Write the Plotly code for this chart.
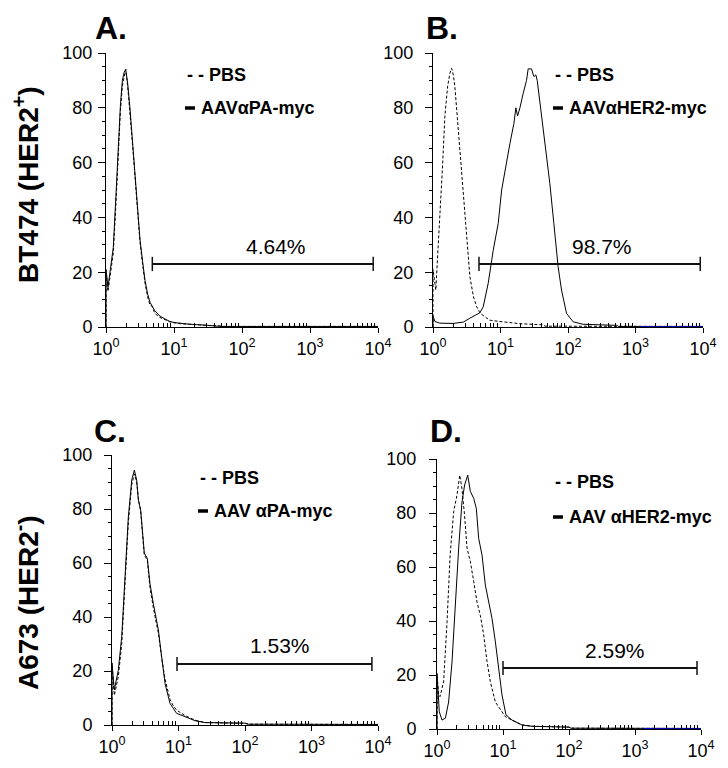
import numpy as np
import plotly.graph_objects as go

# page body has an 8px margin; figure is sized so page == 728x768
OFF = 8
W, H = 728 - 2 * OFF, 768 - 2 * OFF

# ---------------- data (fluorescence intensity, % of max) ----------------
# Panel A: BT474, AAV alpha-PA-myc
a_sol_x = [1.0, 1.0, 1.07, 1.15, 1.28, 1.4, 1.52, 1.63, 1.74, 1.85, 1.95, 2.08, 2.25, 2.45, 2.67, 2.9, 3.16, 3.45, 3.75, 4.1, 4.44, 5.2, 6.2, 7.3, 8.7, 10.3, 12.3, 17, 24, 35, 47, 50, 10000]
a_sol_y = [0, 21, 14.6, 20, 29, 48, 68, 81, 90, 93, 94, 89, 80, 68, 56, 44, 32, 24, 17, 12, 9, 6, 4, 3, 2, 1.6, 1.3, 1.0, 0.8, 0.6, 0.5, 0.2, 0.2]
a_pbs_x = [1.0, 1.0, 1.07, 1.15, 1.28, 1.4, 1.52, 1.63, 1.74, 1.85, 1.95, 2.08, 2.25, 2.45, 2.67, 2.9, 3.16, 3.45, 3.75, 4.1, 4.44, 4.8, 5.2, 6.2, 7.3, 8.7, 10.3, 12.3, 17, 24, 35, 47, 50, 10000]
a_pbs_y = [0, 20, 13, 18, 27, 45, 65, 79, 88, 92, 94, 88, 79, 67, 55, 43, 31, 23, 16, 11, 8, 7.5, 5, 3.5, 2.6, 1.9, 1.5, 1.2, 1.0, 0.7, 0.5, 0.4, 0.2, 0.2]

# Panel B: BT474, AAV alpha-HER2-myc
b_sol_x = [1.0, 1.0, 1.07, 1.26, 2.0, 2.82, 3.52, 4.17, 4.95, 5.55, 6.58, 7.8, 9.25, 10.4, 11.6, 13.8, 15.8, 16.9, 17.9, 19.4, 21.7, 24.3, 25.7, 28.8, 31.2, 33.4, 35, 40.6, 47, 53.8, 61.7, 71.4, 80.2, 95, 119, 166, 525, 562, 10000]
b_sol_y = [0, 4, 2, 1.4, 1.3, 1.8, 3.2, 4.3, 5.2, 7.4, 16, 28, 37.8, 50, 57, 67, 74.3, 80, 77, 80, 85.3, 90, 94.2, 94.2, 91.4, 92, 90, 76.8, 64.6, 52.4, 37.8, 22, 13.5, 5, 1.9, 1.0, 0.6, 0.2, 0.2]
b_pbs_x = [1.0, 1.0, 1.1, 1.27, 1.38, 1.5, 1.65, 1.78, 1.89, 2.0, 2.11, 2.3, 2.51, 2.75, 2.97, 3.25, 3.52, 3.98, 4.43, 5.0, 5.9, 6.9, 9.8, 19.5, 42.7, 45.7, 10000]
b_pbs_y = [0, 21, 13.5, 40, 58, 77, 88, 92.6, 94.4, 92, 87.7, 76, 64.6, 52, 40, 28, 18.4, 11, 7.4, 5, 3.8, 2.5, 2.0, 1.2, 0.8, 0.3, 0.2]

# Panel C: A673, AAV alpha-PA-myc
c_sol_x = [1.0, 1.0, 1.084, 1.245, 1.4, 1.57, 1.76, 1.98, 2.17, 2.35, 2.49, 2.7, 2.89, 3.06, 3.4, 3.72, 4.18, 4.98, 5.58, 6.27, 7.45, 9.38, 12.5, 17.7, 25, 100, 112, 10000]
c_sol_y = [0, 23, 13, 20.4, 32.7, 55, 77, 90.7, 94.4, 90.7, 83.3, 79.6, 71, 63.6, 61.7, 52.5, 45, 35.2, 25.3, 15.4, 8, 4.3, 3.1, 1.6, 0.9, 0.7, 0.3, 0.2]
c_pbs_x = [1.0, 1.0, 1.084, 1.245, 1.4, 1.57, 1.76, 1.98, 2.17, 2.35, 2.49, 2.7, 2.89, 3.06, 3.4, 3.72, 4.18, 4.98, 5.58, 6.27, 7.45, 8.4, 9.38, 12.5, 17.7, 25, 100, 112, 10000]
c_pbs_y = [0, 22, 11, 18, 30, 53, 75, 89, 93, 90, 84, 79, 70, 63, 61, 51, 43.5, 34, 25, 17, 9.5, 7, 5.5, 3.5, 1.8, 0.9, 0.6, 0.3, 0.2]

# Panel D: A673, AAV alpha-HER2-myc
d_sol_x = [1.0, 1.0, 1.084, 1.19, 1.34, 1.5, 1.69, 1.89, 2.13, 2.39, 2.62, 2.92, 3.2, 3.6, 3.94, 4.28, 4.81, 5.4, 6.07, 6.81, 7.66, 8.59, 9.66, 11.1, 13.7, 19.4, 27.5, 100, 107, 10000]
d_sol_y = [0, 20.6, 6.4, 3.3, 4, 10, 25, 47, 67, 84, 90.4, 94, 88, 85.4, 81.7, 70.6, 64.4, 53.3, 47, 41, 32.3, 22.5, 12.6, 5.2, 3.3, 1.5, 1.0, 0.7, 0.3, 0.2]
d_pbs_x = [1.0, 1.0, 1.06, 1.11, 1.26, 1.42, 1.58, 1.79, 2.01, 2.21, 2.39, 2.62, 2.85, 3.2, 3.6, 4.04, 4.54, 5.09, 5.73, 6.43, 7.66, 9.12, 10.8, 13.7, 19.4, 27.5, 100, 107, 10000]
d_pbs_y = [0, 20, 12.6, 12, 17.5, 39.7, 64.4, 80.5, 86.7, 94, 89, 79, 67, 62, 54.6, 47, 42, 35, 25, 17.5, 10, 7, 4.6, 3.3, 1.5, 1.0, 0.7, 0.3, 0.2]

# blue baseline segments (third, empty histogram) in panels B and D
b_blue_x = [1150, 10000]
b_blue_y = [0, 0]
d_blue_x = [1320, 10000]
d_blue_y = [0, 0]

# gates: low, high, level, label
gate_lo = [4.8, 4.8, 9.5, 10]
gate_hi = [8500, 9100, 8100, 8700]
gate_lvl = [23, 23, 22.6, 22.6]
gate_txt = ["4.64%", "98.7%", "1.53%", "2.59%"]
gate_txt_x = [316, 324, 339, 500]
gate_txt_y = [29.2, 29.2, 29.3, 28.9]

panel_names = ["A.", "B.", "C.", "D."]
legend_pbs = ["- - PBS", "- - PBS", "- - PBS", "- - PBS"]
legend_aav = ["AAVαPA-myc", "AAVαHER2-myc", "AAV αPA-myc", "AAV αHER2-myc"]
row_titles = ["BT474 (HER2<sup>+</sup>)", "A673 (HER2<sup>-</sup>)"]

x_tickvals = [1, 10, 100, 1000, 10000]
x_ticktext = ["10<sup>0</sup>", "10<sup>1</sup>", "10<sup>2</sup>", "10<sup>3</sup>", "10<sup>4</sup>"]
y_tickvals = [0, 20, 40, 60, 80, 100]

# ---------------- layout geometry (page pixels) ----------------
boxes = [  # x0, x1, ytop, ybottom
    (106, 378, 53, 327),
    (433, 703, 53, 327),
    (112, 378, 455, 725),
    (437, 701, 459, 729),
]
standoffs = [2, 8, 8, 9]


def fx(px):
    return (px - OFF) / W


def fy(py):
    return 1 - (py - OFF) / H


FONT = "Arial, Liberation Sans, sans-serif"
fig = go.Figure()

sol = [(a_sol_x, a_sol_y), (b_sol_x, b_sol_y), (c_sol_x, c_sol_y), (d_sol_x, d_sol_y)]
pbs = [(a_pbs_x, a_pbs_y), (b_pbs_x, b_pbs_y), (c_pbs_x, c_pbs_y), (d_pbs_x, d_pbs_y)]

minor_vals = [m * 10 ** k for k in range(4) for m in range(2, 10)]

for i in range(4):
    xa = "x" if i == 0 else f"x{i+1}"
    ya = "y" if i == 0 else f"y{i+1}"
    # PBS dashed
    fig.add_trace(go.Scatter(x=pbs[i][0], y=pbs[i][1], mode="lines", xaxis=xa, yaxis=ya,
                             line=dict(color="black", width=1, dash="3px,2px"), showlegend=False))
    # AAV solid
    fig.add_trace(go.Scatter(x=sol[i][0], y=sol[i][1], mode="lines", xaxis=xa, yaxis=ya,
                             line=dict(color="black", width=1), showlegend=False))
    # gate
    fig.add_trace(go.Scatter(x=[gate_lo[i], gate_hi[i]], y=[gate_lvl[i], gate_lvl[i]], mode="lines",
                             xaxis=xa, yaxis=ya, line=dict(color="#111", width=2),
                             error_y=dict(type="data", array=[2.6, 2.6], width=0, thickness=1.5, color="#111"),
                             showlegend=False))
    if i == 1:
        fig.add_trace(go.Scatter(x=b_blue_x, y=b_blue_y, mode="lines", xaxis=xa, yaxis=ya,
                                 line=dict(color="blue", width=1.5), showlegend=False))
    if i == 3:
        fig.add_trace(go.Scatter(x=d_blue_x, y=d_blue_y, mode="lines", xaxis=xa, yaxis=ya,
                                 line=dict(color="blue", width=1.5), showlegend=False))

    x0, x1, yt, yb = boxes[i]
    xkey = "xaxis" if i == 0 else f"xaxis{i+1}"
    ykey = "yaxis" if i == 0 else f"yaxis{i+1}"
    fig.update_layout(**{
        xkey: dict(type="log", range=[0, 4], domain=[fx(x0), fx(x1)], anchor=ya,
                   showline=True, linecolor="black", linewidth=1, showgrid=False, zeroline=False,
                   tickmode="array", tickvals=x_tickvals, ticktext=x_ticktext,
                   ticks="outside", ticklen=5, tickcolor="black", tickwidth=1,
                   tickfont=dict(family=FONT, size=18, color="black"),
                   minor=dict(tickmode="array", tickvals=minor_vals, ticks="inside", ticklen=4,
                              tickcolor="black", tickwidth=1, showgrid=False)),
        ykey: dict(range=[0, 100], domain=[fy(yb), fy(yt)], anchor=xa,
                   showline=True, linecolor="black", linewidth=1, showgrid=False, zeroline=False,
                   tickmode="array", tickvals=y_tickvals,
                   ticks="outside", ticklen=7, tickcolor="black", tickwidth=1,
                   ticklabelstandoff=standoffs[i],
                   tickfont=dict(family=FONT, size=18, color="black"),
                   minor=dict(dtick=5, ticks="outside", ticklen=3, tickcolor="black",
                              tickwidth=1, showgrid=False)),
    })

annotations = []
shapes = []
label_pos = [(111, 8), (442, 8), (110, 411), (446, 411)]
leg_pos = [(185, 75, 108), (553, 75, 108), (198, 478, 511), (553, 482, 517)]
for i in range(4):
    xa = "x" if i == 0 else f"x{i+1}"
    ya = "y" if i == 0 else f"y{i+1}"
    lx, ly = label_pos[i]
    annotations.append(dict(text=f"<b>{panel_names[i]}</b>", x=fx(lx), y=fy(ly), xref="paper", yref="paper",
                            xanchor="center", yanchor="top", showarrow=False,
                            font=dict(family=FONT, size=32, color="black")))
    gx, gy1, gy2 = leg_pos[i]
    annotations.append(dict(text=f"<b>{legend_pbs[i]}</b>", x=fx(gx), y=fy(gy1), xref="paper", yref="paper",
                            xanchor="left", yanchor="middle", showarrow=False,
                            font=dict(family=FONT, size=18, color="black")))
    annotations.append(dict(text=f"<b>{legend_aav[i]}</b>", x=fx(gx + 14), y=fy(gy2), xref="paper", yref="paper",
                            xanchor="left", yanchor="middle", showarrow=False,
                            font=dict(family=FONT, size=18, color="black")))
    shapes.append(dict(type="line", xref="paper", yref="paper", x0=fx(gx), x1=fx(gx + 10),
                       y0=fy(gy2), y1=fy(gy2), line=dict(color="black", width=3.5)))
    annotations.append(dict(text=gate_txt[i], x=np.log10(gate_txt_x[i]), y=gate_txt_y[i], xref=xa, yref=ya,
                            xanchor="center", yanchor="middle", showarrow=False,
                            font=dict(family=FONT, size=21, color="black")))

annotations.append(dict(text=f"<b>{row_titles[0]}</b>", x=fx(26), y=fy(185), xref="paper", yref="paper",
                        textangle=-90, xanchor="center", yanchor="middle", showarrow=False,
                        font=dict(family=FONT, size=28, color="black")))
annotations.append(dict(text=f"<b>{row_titles[1]}</b>", x=fx(26), y=fy(603), xref="paper", yref="paper",
                        textangle=-90, xanchor="center", yanchor="middle", showarrow=False,
                        font=dict(family=FONT, size=28, color="black")))

fig.update_layout(width=W, height=H, margin=dict(l=0, r=0, t=0, b=0, autoexpand=False),
                  paper_bgcolor="white", plot_bgcolor="white",
                  annotations=annotations, shapes=shapes, showlegend=False)

fig.write_html("out.html")
